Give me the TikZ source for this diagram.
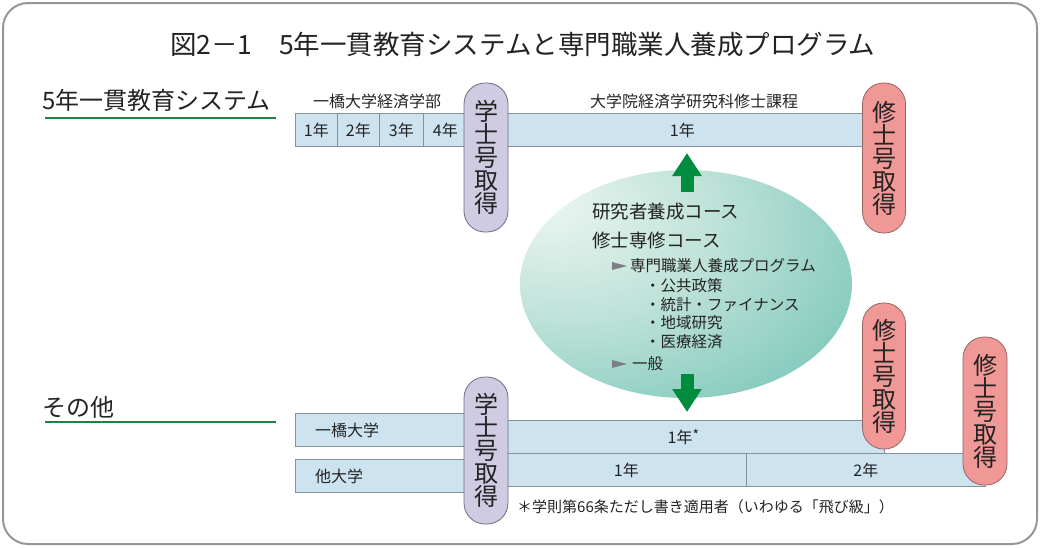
\documentclass[tikz,border=0pt]{standalone}
\usepackage{fontspec}
\setmainfont{Noto Sans CJK JP}
\usetikzlibrary{arrows.meta,shapes.geometric}
\definecolor{textc}{RGB}{35,35,35}
\definecolor{framec}{RGB}{150,150,150}
\definecolor{cellfill}{RGB}{205,228,240}
\definecolor{cellline}{RGB}{135,145,155}
\definecolor{bfill}{RGB}{206,203,226}
\definecolor{bline}{RGB}{110,108,130}
\definecolor{mfill}{RGB}{240,152,150}
\definecolor{mline}{RGB}{150,100,100}
\definecolor{ulgreen}{RGB}{30,130,70}
\definecolor{arrgreen}{RGB}{0,140,62}
\definecolor{ellin}{RGB}{236,246,242}
\definecolor{ellmid}{RGB}{190,226,216}
\definecolor{ellout}{RGB}{96,187,172}
\definecolor{trig}{RGB}{125,125,135}
\pgfdeclareradialshading{ellshade}{\pgfpoint{-22bp}{18bp}}{%
  color(0bp)=(ellin); color(22bp)=(ellmid); color(56bp)=(ellout); color(100bp)=(ellout)}
\newcommand\myfs[2]{\fontsize{#1}{#2}\selectfont}
\begin{document}
\begin{tikzpicture}[x=1pt,y=-1pt,
  every node/.style={text=textc},
  cell/.style={draw=cellline, fill=cellfill, line width=0.8pt, inner sep=0pt,
    minimum height=33pt, anchor=north west, font=\myfs{16}{16}},
  bpill/.style={draw=bline, fill=bfill, line width=0.8pt, rounded corners=21pt,
    minimum width=44pt, inner sep=0pt, align=center, font=\myfs{24}{23}},
  mpill/.style={draw=mline, fill=mfill, line width=0.8pt, rounded corners=21pt,
    minimum width=43pt, inner sep=0pt, align=center, font=\myfs{24}{23}},
  uline/.style={draw=ulgreen, line width=2.4pt},
  garrow/.style={draw=arrgreen, line width=13pt, -{Triangle[width=28pt,length=23pt]}},
  head/.style={anchor=west, inner sep=0pt, font=\myfs{24}{24}},
  small/.style={anchor=center, inner sep=0pt, font=\myfs{16}{16}},
  item/.style={anchor=west, inner sep=0pt, font=\myfs{15.5}{15.5}},
  bigitem/.style={anchor=west, inner sep=0pt, font=\myfs{18.5}{18.5}},
  tri/.style={fill=trig}
]
\useasboundingbox (0,0) rectangle (1040,547);
\draw[draw=framec, line width=2pt, rounded corners=25pt] (3,3) rectangle (1037,544);

% title
\node[anchor=west, inner sep=0pt, font=\myfs{26.5}{26.5}] (title) at (170,44)
  {図2－1　5年一貫教育システムと専門職業人養成プログラム};

% headings
\node[head] (h5) at (42,100) {5年一貫教育システム};
\coordinate (ul1a) at (45,118); \coordinate (ul1b) at (276,118);
\draw[uline] (ul1a) -- (ul1b);
\node[head] (hother) at (42,407) {その他};
\coordinate (ul2a) at (45,422); \coordinate (ul2b) at (276,422);
\draw[uline] (ul2a) -- (ul2b);

% top labels
\node[small] (lbu) at (377,101) {一橋大学経済学部};
\node[small] (lgs) at (694,101) {大学院経済学研究科修士課程};

% top row cells
\node[cell, minimum width=42pt] (c1) at (295,113) {1年};
\node[cell, minimum width=42pt] (c2) at (337,113) {2年};
\node[cell, minimum width=44pt] (c3) at (379,113) {3年};
\node[cell, minimum width=44pt] (c4) at (423,113) {4年};
\node[cell, minimum width=364pt] (m1) at (500,113) {1年};

% bottom rows
\node[cell, minimum width=172pt] (hb) at (295,413) {};
\node[anchor=west, inner sep=0pt, font=\myfs{16}{16}] at ([xshift=20pt]hb.west) {一橋大学};
\node[cell, minimum width=172pt] (ob) at (295,459) {};
\node[anchor=west, inner sep=0pt, font=\myfs{16}{16}] at ([xshift=20pt]ob.west) {他大学};
\node[cell, minimum width=402pt] (r1) at (482,420) {1年\raisebox{3pt}{\myfs{14}{14}*}};
\node[cell, minimum width=240pt] (r2a) at (506,453) {1年};
\node[cell, minimum width=239pt] (r2b) at (746,453) {2年};

% ellipse
\node[ellipse, minimum width=332pt, minimum height=228pt, inner sep=0pt,
  shading=ellshade] (ell) at (686,284) {};
\node[bigitem] (t1) at (592,212) {研究者養成コース};
\node[bigitem] (t2) at (592,240) {修士専修コース};
\fill[tri] (612,262) -- (627,266) -- (612,270) -- cycle;
\node[item] (t3) at (630,266) {専門職業人養成プログラム};
\node[item] (t4) at (645,286) {・公共政策};
\node[item] (t5) at (645,304.5) {・統計・ファイナンス};
\node[item] (t6) at (645,323) {・地域研究};
\node[item] (t7) at (645,342) {・医療経済};
\fill[tri] (612,360) -- (627,364) -- (612,368) -- cycle;
\node[item] (t8) at (632,364) {一般};

% arrows
\coordinate (upS) at (687,192);
\coordinate (upE) at (687,153);
\draw[garrow] (upS) -- (upE);
\coordinate (dnS) at (687,374);
\coordinate (dnE) at (687,412);
\draw[garrow] (dnS) -- (dnE);

% pills
\node[bpill, minimum height=149pt] (bp1) at (486,157.5) {学\\士\\号\\取\\得};
\node[bpill, minimum height=147pt] (bp2) at (486,450.5) {学\\士\\号\\取\\得};
\node[mpill, minimum height=150pt] (mp1) at (884,158) {修\\士\\号\\取\\得};
\node[mpill, minimum height=146pt] (mp2) at (884,376) {修\\士\\号\\取\\得};
\node[mpill, minimum height=148pt, minimum width=44pt] (mp3) at (985,411) {修\\士\\号\\取\\得};

% footnote
\node[anchor=west, inner sep=0pt, font=\myfs{15}{15}] (note) at (517,507)
  {＊学則第66条ただし書き適用者（いわゆる「飛び級」）};
\end{tikzpicture}
\end{document}
